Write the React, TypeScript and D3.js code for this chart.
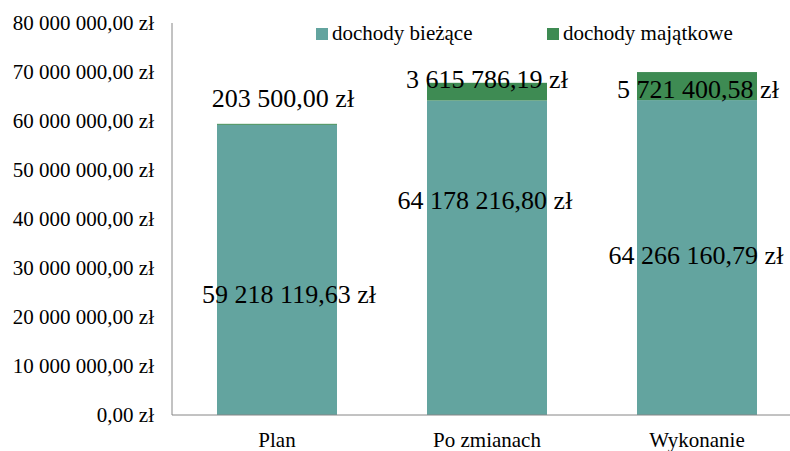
import React from 'react';
import * as d3 from 'd3';

// Dane wykresu
const categories = ['Plan', 'Po zmianach', 'Wykonanie'];
const seriesNames = ['dochody bieżące', 'dochody majątkowe'];
const biezace = [59218119.63, 64178216.8, 64266160.79];
const majatkowe = [203500.0, 3615786.19, 5721400.58];
const yTicks = [0, 10000000, 20000000, 30000000, 40000000, 50000000, 60000000, 70000000, 80000000];

const colors = ['#63a49f', '#3e8b53'];

// przesunięcia etykiet danych (ręcznie ustawione jak w oryginale)
const labelOffsets = [
  [[12, 33], [-2, -49], [-1, 6]],
  [[6, -17], [0, -4], [1, 12]],
];

const width = 790;
const height = 451;
const margin = { top: 23, left: 172, bottom: 36 };

const fmt = (v: number) => {
  const [int, dec] = v.toFixed(2).split('.');
  const grouped = int.replace(/\B(?=(\d{3})+(?!\d))/g, ' ');
  return `${grouped},${dec} zł`;
};

const font = "'Liberation Serif', Tinos, 'Times New Roman', Times, 'DejaVu Serif', serif";

const App: React.FC = () => {
  const x = d3.scaleBand<string>()
    .domain(categories)
    .range([margin.left, margin.left + 630])
    .paddingInner(90 / 210)
    .paddingOuter(45 / 210);

  const y = d3.scaleLinear()
    .domain([0, 80000000])
    .range([height - margin.bottom, margin.top]);

  const stackData = categories.map((c, i) => ({ cat: c, b: biezace[i], m: majatkowe[i] }));
  const stacked = d3.stack<{ cat: string; b: number; m: number }>().keys(['b', 'm'])(stackData);

  return (
    <svg width={width} height={height} style={{ position: 'absolute', left: 0, top: 0, background: '#fff', fontFamily: font }}>
      {/* oś Y */}
      {yTicks.map(t => (
        <text key={t} x={154} y={y(t)} dy="0.35em" textAnchor="end" fontSize={21} fill="#000">
          {fmt(t)}
        </text>
      ))}

      {/* słupki */}
      {stacked.map((s, si) => (
        <g key={si} fill={colors[si]}>
          {s.map((d, i) => (
            <rect
              key={i}
              x={x(categories[i])}
              width={x.bandwidth()}
              y={y(d[1])}
              height={Math.max(1, y(d[0]) - y(d[1]))}
            />
          ))}
        </g>
      ))}

      <line x1={margin.left} x2={margin.left} y1={margin.top} y2={y(0)} stroke="#868686" strokeWidth={1} />
      <line x1={margin.left} x2={width} y1={y(0)} y2={y(0)} stroke="#868686" strokeWidth={1} />

      {/* etykiety danych */}
      {stacked.map((s, si) =>
        s.map((d, i) => {
          const [dx, dy] = labelOffsets[si][i];
          const cx = (x(categories[i]) as number) + x.bandwidth() / 2 + dx;
          const cy = (y(d[0]) + y(d[1])) / 2 + dy;
          return (
            <text key={`${si}-${i}`} x={cx} y={cy} textAnchor="middle" fontSize={26} fill="#000">
              {fmt(d[1] - d[0])}
            </text>
          );
        })
      )}

      {/* kategorie */}
      {categories.map(c => (
        <text key={c} x={(x(c) as number) + x.bandwidth() / 2} y={447} textAnchor="middle" fontSize={21} fill="#000">
          {c}
        </text>
      ))}

      {/* legenda */}
      {seriesNames.map((n, i) => {
        const lx = i === 0 ? 316 : 547;
        return (
          <g key={n}>
            <rect x={lx} y={28} width={12} height={12} fill={colors[i]} />
            <text x={lx + 16} y={40} fontSize={21} fill="#000">{n}</text>
          </g>
        );
      })}
    </svg>
  );
};

export default App;
